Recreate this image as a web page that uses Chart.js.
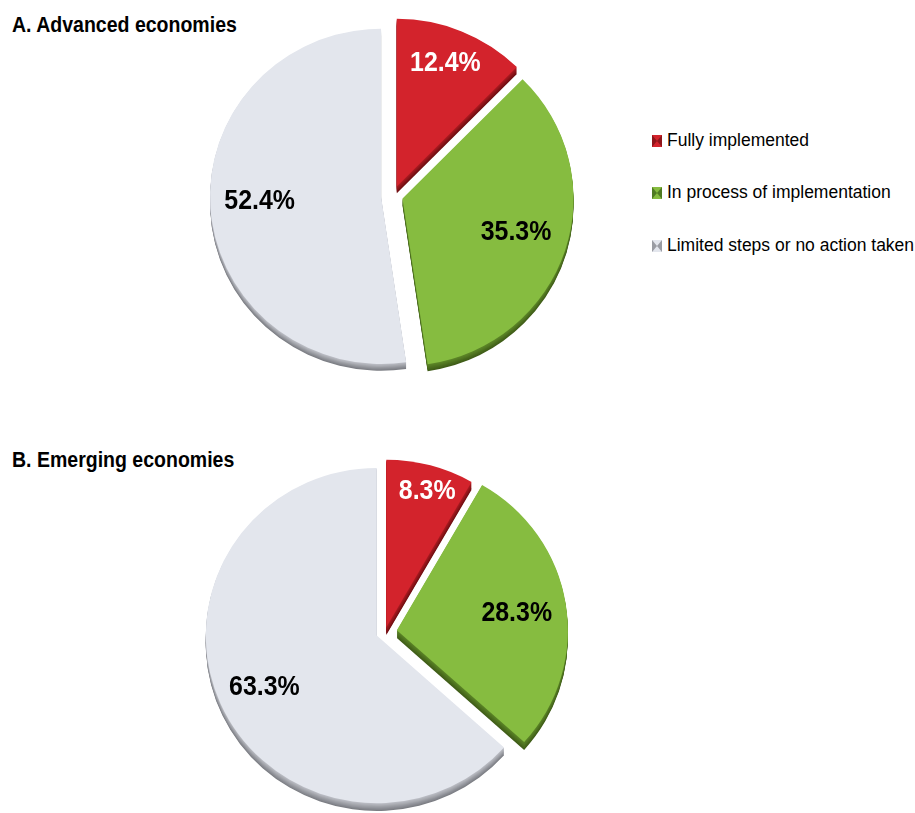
<!DOCTYPE html>
<html>
<head>
<meta charset="utf-8">
<script src="https://cdn.jsdelivr.net/npm/chart.js@4.4.1/dist/chart.umd.min.js"></script>
<style>
  html, body { margin: 0; padding: 0; background: #fff; }
  body { width: 915px; height: 813px; overflow: hidden; position: relative;
         font-family: "Liberation Sans", Arial, Helvetica, sans-serif; color: #000; }
  .title { position: absolute; left: 12px; font-weight: bold; font-size: 22px; line-height: 22px;
           white-space: nowrap; transform: scaleX(0.887); transform-origin: 0 0; }
  canvas { position: absolute; left: 0; }
  #legend { position: absolute; left: 652px; top: 0; }
  .item { position: absolute; left: 0; white-space: nowrap; font-size: 17.5px; line-height: 17.5px; }
  .sw { position: absolute; left: 0; top: 3px; width: 0; height: 0; border-style: solid; border-width: 6px 5.5px; }
  .txt { position: absolute; left: 15px; top: 0; }
</style>
</head>
<body>
<div class="title" id="titleA" style="top:14px"></div>
<div class="title" id="titleB" style="top:449px"></div>
<div id="legend"></div>
<canvas id="pieA" width="915" height="420" style="top:0"></canvas>
<canvas id="pieB" width="915" height="393" style="top:420px"></canvas>
<script>
// Implementation status of the reform, share of jurisdictions (%)
const categories = ['Fully implemented', 'In process of implementation', 'Limited steps or no action taken'];
const advancedShares = [12.4, 35.3, 52.4];
const emergingShares = [8.3, 28.3, 63.3];
const panelTitles = ['A. Advanced economies', 'B. Emerging economies'];

// Styling
const faceColors  = ['#d3232c', '#86bc40', '#e3e6ed'];
const wallLight   = ['#a81a20', '#5a8326', '#b9bbc2'];
const wallDark    = ['#6e0e12', '#3f5c18', '#7c7e84'];
const swatchSide  = ['#8e161b', '#4f7a22', '#9a9ca3'];
const labelColors = ['#ffffff', '#000000', '#000000'];

document.getElementById('titleA').textContent = panelTitles[0];
document.getElementById('titleB').textContent = panelTitles[1];

// Legend
const legendRows = [131.7, 184.2, 236.7];
const legend = document.getElementById('legend');
categories.forEach((name, i) => {
  const row = document.createElement('div');
  row.className = 'item';
  row.style.top = legendRows[i] + 'px';
  const sw = document.createElement('span');
  sw.className = 'sw';
  sw.style.borderColor = `${faceColors[i]} ${swatchSide[i]} ${faceColors[i]} ${swatchSide[i]}`;
  const txt = document.createElement('span');
  txt.className = 'txt';
  txt.textContent = name;
  row.appendChild(sw);
  row.appendChild(txt);
  legend.appendChild(row);
});

function hexToRgb(h) {
  const n = parseInt(h.slice(1), 16);
  return [(n >> 16) & 255, (n >> 8) & 255, n & 255];
}
function mix(a, b, t) {
  const A = hexToRgb(a), B = hexToRgb(b);
  return `rgb(${A.map((v, k) => Math.round(v + (B[k] - v) * t)).join(',')})`;
}

// Pulls each slice out from the centre, tilts the disc slightly, gives it a
// thickness and writes each slice's value on it
const explodedPie = {
  id: 'explodedPie',
  beforeDatasetDraw(chart, args, opts) {
    const ctx = chart.ctx;
    const arcs = args.meta.data;
    const geo = arcs.map((arc, i) => {
      const p = arc.getProps(['x', 'y', 'startAngle', 'endAngle', 'outerRadius'], true);
      const mid = (p.startAngle + p.endAngle) / 2;
      return { ...p, mid, dx: Math.cos(mid) * opts.shift[i], dy: Math.sin(mid) * opts.shift[i] };
    });
    const cx = geo[0].x, cy = geo[0].y;
    ctx.save();
    ctx.translate(cx, cy);
    ctx.scale(1, opts.tilt);
    ctx.translate(-cx, -cy);
    // side walls
    geo.forEach((g, i) => {
      for (let d = opts.depth; d >= 1; d--) {
        const t = (d - 1) / Math.max(1, opts.depth - 1);
        ctx.beginPath();
        ctx.moveTo(g.x + g.dx, g.y + g.dy + d);
        ctx.arc(g.x + g.dx, g.y + g.dy + d, g.outerRadius, g.startAngle, g.endAngle);
        ctx.closePath();
        ctx.fillStyle = mix(wallLight[i], wallDark[i], t);
        ctx.fill();
      }
    });
    // faces
    arcs.forEach((arc, i) => {
      ctx.save();
      ctx.translate(geo[i].dx, geo[i].dy);
      arc.draw(ctx);
      ctx.restore();
    });
    ctx.restore();
    chart.$sliceGeo = geo;
    return false;
  },
  afterDatasetsDraw(chart, args, opts) {
    const geo = chart.$sliceGeo;
    if (!geo) return;
    const ctx = chart.ctx;
    const values = chart.data.datasets[0].data;
    const cx = geo[0].x, cy = geo[0].y;
    ctx.save();
    ctx.font = 'bold 28px "Liberation Sans", Arial, sans-serif';
    ctx.textAlign = 'center';
    ctx.textBaseline = 'alphabetic';
    geo.forEach((g, i) => {
      const ang = g.mid + opts.labelTurn[i] * Math.PI / 180;
      const r = opts.labelRadius[i] * g.outerRadius;
      const lx = g.x + g.dx + Math.cos(ang) * r;
      const ly = cy + (g.y + g.dy + Math.sin(ang) * r - cy) * opts.tilt;
      ctx.save();
      ctx.translate(lx, ly + 10);
      ctx.scale(0.89, 1);
      ctx.fillStyle = labelColors[i];
      ctx.fillText(values[i].toFixed(1) + '%', 0, 0);
      ctx.restore();
    });
    ctx.restore();
  }
};

function makePie(id, shares, padding, pieStyle) {
  return new Chart(document.getElementById(id), {
    type: 'pie',
    data: {
      labels: categories,
      datasets: [{
        data: shares,
        backgroundColor: faceColors,
        borderWidth: 0
      }]
    },
    options: {
      responsive: false,
      animation: false,
      layout: { padding },
      plugins: {
        legend: { display: false },
        tooltip: { enabled: false },
        explodedPie: pieStyle
      }
    },
    plugins: [explodedPie]
  });
}

makePie('pieA', advancedShares, { left: 222, top: 24.5, right: 351, bottom: 53.5 },
        { shift: [10, 10, 12], labelRadius: [0.80, 0.69, 0.71], labelTurn: [-1.5, -2.3, 3], depth: 7, tilt: 0.98 });
makePie('pieB', emergingShares, { left: 214, top: 41, right: 359, bottom: 10 },
        { shift: [5, 12, 9], labelRadius: [0.86, 0.71, 0.72], labelTurn: [1.2, 0, 0], depth: 8, tilt: 0.98 });
</script>
</body>
</html>
